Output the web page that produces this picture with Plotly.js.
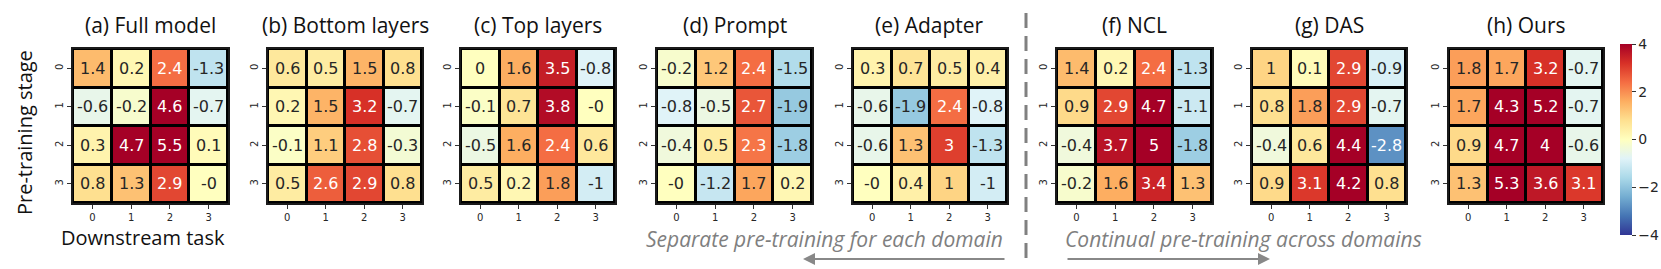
<!DOCTYPE html>
<html>
<head>
<meta charset="utf-8">
<script src="https://cdn.plot.ly/plotly-3.0.1.min.js"></script>
<style>html,body{margin:0;padding:0;background:#fff;}#chart{width:1661px;height:269px;}</style>
</head>
<body>
<div id="chart"></div>
<script>
// ---- data ----
const tasks = [0, 1, 2, 3];
const stages = [0, 1, 2, 3];
const tickLabels = ["0", "1", "2", "3"];
const panelTitles = ["(a) Full model", "(b) Bottom layers", "(c) Top layers", "(d) Prompt",
                     "(e) Adapter", "(f) NCL", "(g) DAS", "(h) Ours"];
const fullModel    = [[1.4, 0.2, 2.4, -1.3], [-0.6, -0.2, 4.6, -0.7], [0.3, 4.7, 5.5, 0.1], [0.8, 1.3, 2.9, -0]];
const bottomLayers = [[0.6, 0.5, 1.5, 0.8], [0.2, 1.5, 3.2, -0.7], [-0.1, 1.1, 2.8, -0.3], [0.5, 2.6, 2.9, 0.8]];
const topLayers    = [[0, 1.6, 3.5, -0.8], [-0.1, 0.7, 3.8, -0], [-0.5, 1.6, 2.4, 0.6], [0.5, 0.2, 1.8, -1]];
const prompt       = [[-0.2, 1.2, 2.4, -1.5], [-0.8, -0.5, 2.7, -1.9], [-0.4, 0.5, 2.3, -1.8], [-0, -1.2, 1.7, 0.2]];
const adapter      = [[0.3, 0.7, 0.5, 0.4], [-0.6, -1.9, 2.4, -0.8], [-0.6, 1.3, 3, -1.3], [-0, 0.4, 1, -1]];
const ncl          = [[1.4, 0.2, 2.4, -1.3], [0.9, 2.9, 4.7, -1.1], [-0.4, 3.7, 5, -1.8], [-0.2, 1.6, 3.4, 1.3]];
const das          = [[1, 0.1, 2.9, -0.9], [0.8, 1.8, 2.9, -0.7], [-0.4, 0.6, 4.4, -2.8], [0.9, 3.1, 4.2, 0.8]];
const ours         = [[1.8, 1.7, 3.2, -0.7], [1.7, 4.3, 5.2, -0.7], [0.9, 4.7, 4, -0.6], [1.3, 5.3, 3.6, 3.1]];
const panels = [fullModel, bottomLayers, topLayers, prompt, adapter, ncl, das, ours];
const colorTicks = [4, 2, 0, -2, -4];

// ---- layout geometry (pixels) ----
const W = 1661, H = 269;
const panelLeft  = [73, 268, 461, 657, 853, 1057, 1252, 1449];
const panelRight = [228, 422, 615, 812, 1007, 1212, 1406, 1603];
const panelTop = 49, panelBottom = 203;
const px = v => v / W;
const py = v => 1 - v / H;

function fmt(v) {
  if (Object.is(v, -0)) return "-0";
  return String(v);
}

const traces = [];
const annotations = [];
const layout = {
  width: W, height: H,
  margin: {l: 0, r: 0, t: 0, b: 0},
  paper_bgcolor: "#ffffff",
  plot_bgcolor: "#000000",
  showlegend: false,
  font: {family: "DejaVu Sans", color: "#262626"},
  coloraxis: {
    cmin: -4, cmax: 4,
    colorscale: [
      [0.0, "#313695"], [0.1, "#4575b4"], [0.2, "#74add1"], [0.3, "#abd9e9"],
      [0.4, "#e0f3f8"], [0.5, "#ffffbf"], [0.6, "#fee090"], [0.7, "#fdae61"],
      [0.8, "#f46d43"], [0.9, "#d73027"], [1.0, "#a50026"]
    ],
    colorbar: {
      x: px(1620), xanchor: "left", xpad: 0,
      y: py((44 + 235) / 2), yanchor: "middle", ypad: 0,
      len: (235 - 44) / H, lenmode: "fraction",
      thickness: 12, thicknessmode: "pixels",
      outlinewidth: 0,
      tickmode: "array", tickvals: colorTicks,
      ticks: "outside", ticklen: 4, tickcolor: "#333",
      tickfont: {family: "DejaVu Sans", size: 14, color: "#262626"}
    }
  },
  shapes: [],
  annotations: annotations
};

panels.forEach((z, i) => {
  const n = i + 1;
  const xa = "x" + (n === 1 ? "" : n), ya = "y" + (n === 1 ? "" : n);
  const xkey = "xaxis" + (n === 1 ? "" : n), ykey = "yaxis" + (n === 1 ? "" : n);
  traces.push({
    type: "heatmap", z: z, x: tasks, y: stages,
    xaxis: xa, yaxis: ya, coloraxis: "coloraxis",
    xgap: 3, ygap: 3, hoverinfo: "skip"
  });
  layout[xkey] = {
    domain: [px(panelLeft[i]), px(panelRight[i])],
    anchor: ya, range: [-0.5, 3.5], fixedrange: true,
    tickmode: "array", tickvals: tasks, ticktext: tickLabels,
    ticks: "outside", ticklen: 4, tickcolor: "#333",
    tickfont: {family: "DejaVu Sans", size: 10, color: "#262626"},
    showgrid: false, zeroline: false,
    showline: true, mirror: true, linecolor: "#1a1a1a", linewidth: 2
  };
  layout[ykey] = {
    domain: [py(panelBottom), py(panelTop)],
    anchor: xa, range: [3.5, -0.5], fixedrange: true,
    tickmode: "array", tickvals: stages, ticktext: tickLabels, tickangle: -90,
    ticks: "outside", ticklen: 4, tickcolor: "#333",
    tickfont: {family: "DejaVu Sans", size: 10, color: "#262626"},
    showgrid: false, zeroline: false,
    showline: true, mirror: true, linecolor: "#1a1a1a", linewidth: 2
  };
  z.forEach((row, r) => {
    row.forEach((v, c) => {
      annotations.push({
        xref: xa, yref: ya, x: tasks[c], y: stages[r],
        text: fmt(v), showarrow: false,
        font: {family: "DejaVu Sans", size: 16,
               color: (v >= 2.0 || v <= -2.5) ? "#ffffff" : "#262626"}
      });
    });
  });
  annotations.push({
    xref: "paper", yref: "paper",
    x: px((panelLeft[i] + panelRight[i]) / 2), y: py(25),
    xanchor: "center", yanchor: "middle",
    text: panelTitles[i], showarrow: false,
    font: {family: "Open Sans", size: 21, color: "#111"}
  });
});

annotations.push({
  xref: "paper", yref: "paper", x: px(25), y: py(133),
  xanchor: "center", yanchor: "middle", textangle: -90,
  text: "Pre-training stage", showarrow: false,
  font: {family: "Open Sans", size: 20, color: "#111"}
});
annotations.push({
  xref: "paper", yref: "paper", x: px(143), y: py(237),
  xanchor: "center", yanchor: "middle",
  text: "Downstream task", showarrow: false,
  font: {family: "Open Sans", size: 20, color: "#111"}
});

annotations.push({
  xref: "paper", yref: "paper", x: px(1005), y: py(239),
  xanchor: "right", yanchor: "middle",
  text: "<i>Separate pre-training for each domain</i>", showarrow: false,
  font: {family: "Open Sans", size: 21, color: "#7f7f7f"}
});
annotations.push({
  xref: "paper", yref: "paper", x: px(1063), y: py(239),
  xanchor: "left", yanchor: "middle",
  text: "<i>Continual pre-training across domains</i>", showarrow: false,
  font: {family: "Open Sans", size: 21, color: "#7f7f7f"}
});
annotations.push({
  xref: "paper", yref: "paper", x: px(803), y: py(259),
  axref: "pixel", ayref: "pixel", ax: 1006 - 803, ay: 0,
  text: "", showarrow: true, arrowhead: 2, arrowsize: 1.2, arrowwidth: 2, arrowcolor: "#888"
});
annotations.push({
  xref: "paper", yref: "paper", x: px(1270), y: py(259),
  axref: "pixel", ayref: "pixel", ax: 1066 - 1270, ay: 0,
  text: "", showarrow: true, arrowhead: 2, arrowsize: 1.2, arrowwidth: 2, arrowcolor: "#888"
});
layout.shapes.push({
  type: "line", xref: "paper", yref: "paper",
  x0: px(1026), x1: px(1026), y0: py(13), y1: py(263),
  line: {color: "#808080", width: 3, dash: "15px,8px"}
});

Plotly.newPlot("chart", traces, layout, {displayModeBar: false, staticPlot: true});
</script>
</body>
</html>
